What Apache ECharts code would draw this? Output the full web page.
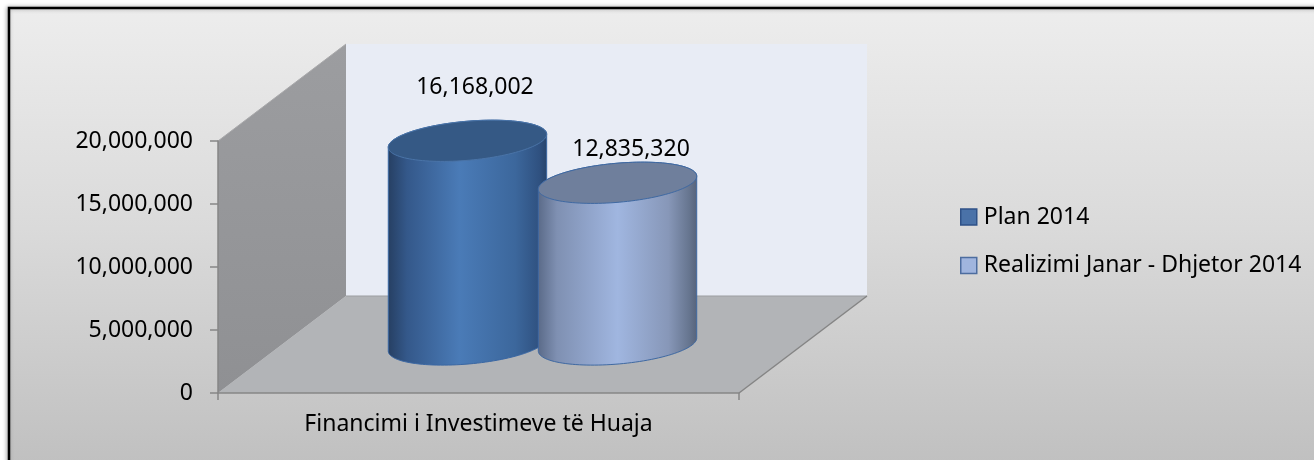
<!DOCTYPE html>
<html>
<head>
<meta charset="utf-8">
<script src="https://cdn.jsdelivr.net/npm/echarts@6/dist/echarts.min.js"></script>
<style>
  html, body { margin: 0; padding: 0; background: #ffffff; }
  #chart { width: 1314px; height: 460px; }
</style>
</head>
<body>
<div id="chart"></div>
<script>
// ---- data ----
const categories = ['Financimi i Investimeve të Huaja'];
const seriesNames = ['Plan 2014', 'Realizimi Janar - Dhjetor 2014'];
const planValues = [16168002];
const realizimiValues = [12835320];
const yMin = 0;
const yMax = 20000000;
const yInterval = 5000000;

// ---- styling ----
const FONT = '"Noto Sans", "Open Sans", sans-serif';
const FS = 23;
const DEPTH_X = 128, DEPTH_Y = -97;   // oblique 3D depth
const CYL_DEPTH = 0.5;                 // cylinders sit mid-depth
const CYL_OFFSET = [-0.144, 0.144];    // fraction of category band
const CYL_RX = 0.1526;                 // fraction of band
const CYL_RY = 19.5;
const TILT = -5 * Math.PI / 180;
const LABEL_DX = [7.5, 13.5];
const LABEL_DY = [-53, -33];

const BODY_STOPS = [
  [[0, '#263f62'], [0.12, '#34588a'], [0.45, '#4a7bb7'], [0.8, '#3c679c'], [0.95, '#2f5180'], [1, '#28446a']],
  [[0, '#5a6a88'], [0.12, '#7f90b2'], [0.5, '#a0b6e0'], [0.82, '#8797b8'], [0.95, '#66758f'], [1, '#56637b']]
];
const TOP_FILL = ['#355985', '#6f7f9c'];
const TOP_EDGE = ['#4a74a8', '#3f69a2'];
const BODY_EDGE = ['#3a67a3', '#3f69a2'];
const LEGEND_COLORS = [
  { color: '#4a72a8', borderColor: '#2f5288' },
  { color: '#a0b5de', borderColor: '#4d6d9f' }
];

const fmt = v => Number(v).toLocaleString('en-US');

function renderWalls(params, api) {
  const cs = params.coordSys;
  const x0 = cs.x, y0 = cs.y, x1 = cs.x + cs.width, y1 = cs.y + cs.height;
  const dx = DEPTH_X, dy = DEPTH_Y;
  return {
    type: 'group',
    children: [
      { type: 'rect', shape: { x: x0 + dx, y: y0 + dy, width: cs.width, height: cs.height },
        style: { fill: '#e8ecf5' } },
      { type: 'polygon', shape: { points: [[x0, y0], [x0 + dx, y0 + dy], [x0 + dx, y1 + dy], [x0, y1]] },
        style: { fill: { type: 'linear', x: 0, y: 0, x2: 0, y2: 1,
          colorStops: [{ offset: 0, color: '#9c9da0' }, { offset: 1, color: '#8f9093' }] } } },
      { type: 'polygon', shape: { points: [[x0, y1], [x1, y1], [x1 + dx, y1 + dy], [x0 + dx, y1 + dy]] },
        style: { fill: '#b2b4b7' } },
      { type: 'polyline', shape: { points: [[x0, y0], [x0 + dx, y0 + dy]] },
        style: { stroke: '#a9a9ab', lineWidth: 1, fill: null } },
      { type: 'polyline', shape: { points: [[x0 + dx, y1 + dy], [x1 + dx, y1 + dy]] },
        style: { stroke: '#9c9ea1', lineWidth: 1, fill: null } },
      { type: 'polyline', shape: { points: [[x1, y1], [x1 + dx, y1 + dy]] },
        style: { stroke: '#858585', lineWidth: 1.5, fill: null } }
    ]
  };
}

function makeCylinderRender(si) {
  return function (params, api) {
    const xi = api.value(0), v = api.value(1);
    const base = api.coord([xi, 0]);
    const top = api.coord([xi, v]);
    const band = api.size([1, 0])[0];
    const cx = base[0] + CYL_OFFSET[si] * band + DEPTH_X * CYL_DEPTH;
    const by = base[1] + DEPTH_Y * CYL_DEPTH;
    const ty = top[1] + DEPTH_Y * CYL_DEPTH;
    const rx = CYL_RX * band, ry = CYL_RY, th = TILT;
    const pt = (cy, t) => [
      cx + rx * Math.cos(t) * Math.cos(th) - ry * Math.sin(t) * Math.sin(th),
      cy + rx * Math.cos(t) * Math.sin(th) + ry * Math.sin(t) * Math.cos(th)
    ];
    const N = 60;
    const body = [];
    for (let i = 0; i <= N; i++) body.push(pt(by, Math.PI * i / N));
    for (let i = 0; i <= N; i++) body.push(pt(ty, Math.PI + Math.PI * i / N));
    const topPts = [];
    for (let i = 0; i < 2 * N; i++) topPts.push(pt(ty, 2 * Math.PI * i / (2 * N)));
    return {
      type: 'group',
      children: [
        { type: 'polygon', shape: { points: body },
          style: { fill: { type: 'linear', x: 0, y: 0, x2: 1, y2: 0,
            colorStops: BODY_STOPS[si].map(s => ({ offset: s[0], color: s[1] })) },
            stroke: BODY_EDGE[si], lineWidth: 1 } },
        { type: 'polygon', shape: { points: topPts },
          style: { fill: TOP_FILL[si], stroke: TOP_EDGE[si], lineWidth: 1 } },
        { type: 'text', z2: 10,
          style: { text: fmt(v), x: cx + LABEL_DX[si], y: ty + LABEL_DY[si],
            align: 'center', verticalAlign: 'middle',
            fontSize: FS, fontFamily: FONT, fill: '#000000' } }
      ]
    };
  };
}

const chart = echarts.init(document.getElementById('chart'), null, { renderer: 'canvas' });
chart.setOption({
  animation: false,
  backgroundColor: '#ffffff',
  graphic: [{
    type: 'rect', z: -100, silent: true,
    shape: { x: 9, y: 8, width: 1340, height: 490 },
    style: {
      fill: { type: 'linear', x: 0, y: 0, x2: 0, y2: 1,
        colorStops: [{ offset: 0, color: '#ededed' }, { offset: 0.45, color: '#dadada' }, { offset: 1, color: '#bcbcbc' }] },
      stroke: '#000000', lineWidth: 2.5,
      shadowBlur: 4, shadowColor: 'rgba(0,0,0,0.3)', shadowOffsetX: -1, shadowOffsetY: 0
    }
  }],
  grid: { left: 218, top: 141, width: 521, height: 252, containLabel: false },
  legend: {
    orient: 'vertical', left: 955, top: 198,
    itemWidth: 16, itemHeight: 16, itemGap: 20.5,
    icon: 'rect',
    textStyle: { fontSize: FS, fontFamily: FONT, color: '#000', lineHeight: 28, padding: [0, 0, 0, 2] },
    data: seriesNames.map((n, i) => ({ name: n, icon: 'rect',
      itemStyle: { color: LEGEND_COLORS[i].color, borderColor: LEGEND_COLORS[i].borderColor, borderWidth: 1.5 } }))
  },
  xAxis: {
    type: 'category', data: categories, z: 10,
    axisLine: { show: true, lineStyle: { color: '#868686', width: 1.5 } },
    axisTick: { show: true, length: 7, lineStyle: { color: '#868686', width: 1.5 } },
    axisLabel: { fontSize: FS, fontFamily: FONT, color: '#000', margin: 20 },
    splitLine: { show: false }
  },
  yAxis: {
    type: 'value', min: yMin, max: yMax, interval: yInterval, z: 10,
    axisLine: { show: true, lineStyle: { color: '#868686', width: 1.5 } },
    axisTick: { show: true, length: 8, lineStyle: { color: '#868686', width: 1.5 } },
    axisLabel: { fontSize: FS, fontFamily: FONT, color: '#000', margin: 25, formatter: v => fmt(v) },
    splitLine: { show: false }
  },
  series: [
    { type: 'custom', name: '__walls', z: 1, silent: true, renderItem: renderWalls, data: [[0, 0]] },
    { type: 'custom', name: seriesNames[0], z: 2, renderItem: makeCylinderRender(0),
      itemStyle: { color: LEGEND_COLORS[0].color },
      data: planValues.map((v, i) => [i, v]) },
    { type: 'custom', name: seriesNames[1], z: 3, renderItem: makeCylinderRender(1),
      itemStyle: { color: LEGEND_COLORS[1].color },
      data: realizimiValues.map((v, i) => [i, v]) }
  ]
});
</script>
</body>
</html>
